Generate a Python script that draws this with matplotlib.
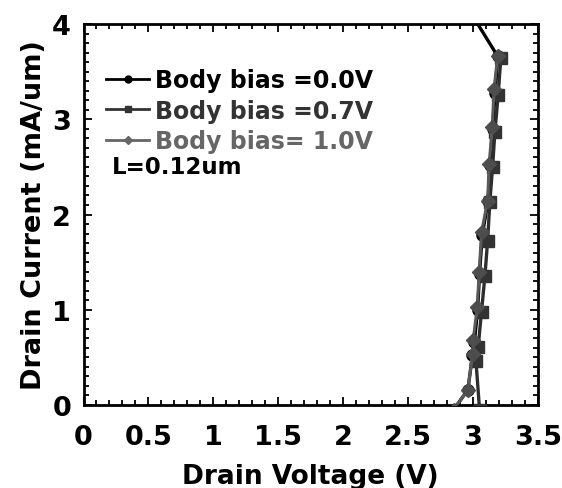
import matplotlib
matplotlib.use("Agg")
import matplotlib.pyplot as plt
from matplotlib.ticker import MultipleLocator
from matplotlib.lines import Line2D

plt.rcParams['font.family'] = ['DejaVu Sans']
plt.rcParams['font.weight'] = 'bold'

# Body bias = 0.0 V
v0 = [2.85, 2.96, 2.995, 3.01, 3.035, 3.05, 3.07, 3.115, 3.13, 3.15, 3.17, 3.19, 2.90]
i0 = [-0.05, 0.16, 0.52, 0.66, 1.0, 1.38, 1.78, 2.14, 2.52, 2.90, 3.28, 3.66, 4.3]
# Body bias = 0.7 V
v7 = [3.05, 3.022, 3.039, 3.065, 3.091, 3.112, 3.129, 3.150, 3.168, 3.193, 3.214]
i7 = [-0.05, 0.465, 0.606, 0.980, 1.351, 1.725, 2.128, 2.496, 2.863, 3.255, 3.643]
# Body bias = 1.0 V
v10 = [2.85, 2.96, 2.996, 3.001, 3.032, 3.047, 3.065, 3.112, 3.124, 3.147, 3.162, 3.189]
i10 = [-0.05, 0.16, 0.535, 0.686, 1.026, 1.393, 1.813, 2.145, 2.530, 2.916, 3.318, 3.667]

labels = ["Body bias =0.0V", "Body bias =0.7V", "Body bias= 1.0V"]
xticks = [0, 0.5, 1, 1.5, 2, 2.5, 3, 3.5]
yticks = [0, 1, 2, 3, 4]

fig = plt.figure(figsize=(5.62, 4.89), dpi=100)
ax = fig.add_axes([83.5/562, 1-406/489, (538-83.5)/562, (406-25)/489])

ax.plot(v0, i0, color='black', lw=2.4, marker='o', ms=8, mfc='black', mec='black', zorder=3)
ax.plot(v7, i7, color='#2e2e2e', lw=2.4, marker='s', ms=8.5, mfc='#333333', mec='#333333', zorder=4)
ax.plot(v10, i10, color='#5a5a5a', lw=2.2, marker='D', ms=7, mfc='#4d4d4d', mec='#4d4d4d', zorder=5)

ax.set_xlim(0, 3.5)
ax.set_ylim(0, 4)
ax.set_xticks(xticks)
ax.set_xticklabels([f"{t:g}" for t in xticks])
ax.set_yticks(yticks)
ax.xaxis.set_minor_locator(MultipleLocator(0.1))
ax.yaxis.set_minor_locator(MultipleLocator(0.1))
ax.tick_params(which='both', direction='in', top=True, right=True, width=1.3, color='black')
ax.tick_params(which='major', length=6)
ax.tick_params(which='minor', length=3.5)
ax.tick_params(axis='x', which='major', labelsize=19.5, pad=14)
ax.tick_params(axis='y', which='major', labelsize=19.5, pad=9)
ax.tick_params(axis='x', which='both', labeltop=False)
ax.tick_params(axis='y', which='both', labelright=False)
for s in ax.spines.values():
    s.set_linewidth(2)

ax.set_xlabel("Drain Voltage (V)", fontsize=19, fontweight='bold', labelpad=9)
ax.set_ylabel("Drain Current (mA/um)", fontsize=19.5, fontweight='bold', labelpad=4)

handles = [
    Line2D([], [], color='black', lw=2, marker='o', ms=5, mfc='black', mec='black'),
    Line2D([], [], color='#333333', lw=2, marker='s', ms=5, mfc='#333333', mec='#333333'),
    Line2D([], [], color='#666666', lw=2, marker='D', ms=4, mfc='#666666', mec='#666666'),
]
leg = ax.legend(handles, labels, loc='upper left', bbox_to_anchor=(0.05, 0.884),
                frameon=False, handlelength=1.82, handletextpad=0.25,
                labelspacing=0.27, borderaxespad=0, borderpad=0,
                labelcolor=['black', '#333333', '#666666'],
                prop={'weight': 'bold', 'size': 17, 'family': 'DejaVu Sans'})
ax.text(0.063, 0.625, "L=0.12um", transform=ax.transAxes, fontsize=16.5,
        fontweight='bold', va='center', ha='left', color='black')

fig.savefig("out.png", dpi=100)
